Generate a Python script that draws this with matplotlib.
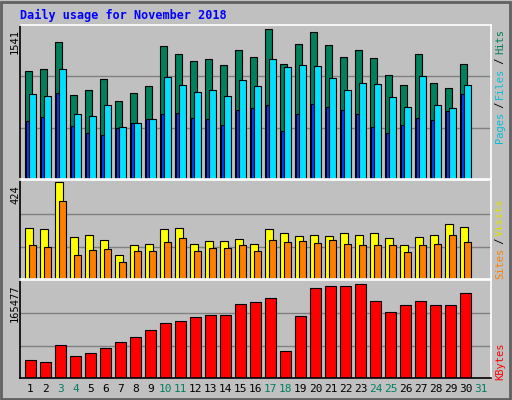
import numpy as np
import matplotlib.pyplot as plt
from matplotlib.patches import Rectangle

days = np.arange(1, 31)
day_labels = [str(d) for d in range(1, 32)]
weekend = [3, 4, 10, 11, 17, 18, 24, 25, 31]

hits = [1112, 1133, 1415, 861, 913, 1028, 809, 882, 955, 1374, 1290, 1217, 1238, 1175, 1332,
        1259, 1541, 1185, 1395, 1510, 1384, 1259, 1332, 1248, 1070, 966, 1290, 987, 934, 1185]
files = [872, 851, 1133, 673, 652, 767, 537, 579, 621, 1049, 966, 892, 913, 851, 1018,
         955, 1238, 1154, 1175, 1164, 1039, 913, 987, 976, 840, 746, 1060, 767, 736, 966]
pages = [600, 641, 882, 547, 474, 453, 526, 579, 621, 673, 683, 631, 621, 558, 715,
         736, 767, 495, 673, 777, 746, 715, 673, 537, 474, 558, 631, 610, 704, 872]
visits = [222, 217, 424, 185, 194, 171, 107, 149, 153, 217, 222, 153, 167, 167, 176,
          153, 217, 199, 190, 194, 190, 199, 194, 199, 181, 149, 185, 194, 240, 227]
sites = [149, 139, 341, 103, 126, 130, 75, 121, 121, 162, 181, 121, 135, 135, 149,
         121, 171, 162, 167, 158, 171, 153, 149, 149, 149, 116, 149, 153, 194, 162]
kbytes = [31400, 27780, 58590, 38650, 44090, 53150, 64020, 71270, 83950, 96640,
          100260, 107510, 111130, 111130, 129250, 132880, 140120, 47720, 109320, 158240,
          161870, 161870, 165477, 134690, 116570, 127440, 134690, 127440, 127440, 149180]

W, H = 512, 400
BG = '#c0c0c0'
MONO = 'DejaVu Sans Mono'
fig = plt.figure(figsize=(W / 100, H / 100), dpi=100, facecolor=BG)

def px_axes(x0, y0, x1, y1):
    return fig.add_axes([x0 / W, 1 - y1 / H, (x1 - x0) / W, (y1 - y0) / H])

def style(ax, vmax):
    ax.set_facecolor(BG)
    ax.set_xlim(0.3, 31.7)
    ax.set_ylim(0, vmax * 1.03)
    for f in (1 / 3, 2 / 3):
        ax.axhline(vmax * 1.03 * f, color='#808080', lw=1, zorder=0)
    ax.set_xticks([])
    ax.set_yticks([])
    ax.spines['top'].set_color('white')
    ax.spines['right'].set_color('white')
    ax.spines['left'].set_color('black')
    ax.spines['bottom'].set_color('white')
    for s in ax.spines.values():
        s.set_linewidth(1.2)

kw = dict(align='edge', edgecolor='black', linewidth=0.8)

ax1 = px_axes(20, 25, 491, 179)
style(ax1, 1541)
ax1.bar(days - 0.367, hits, width=0.49, color='#00805c', **kw)
ax1.bar(days - 0.28, pages, width=0.18, color='#0040ff', **kw)
ax1.bar(days - 0.1, files, width=0.49, color='#00e0ff', **kw)

ax2 = px_axes(20, 180, 491, 279)
style(ax2, 424 / 1.03)
ax2.set_ylim(0, 424 * 1.02)
ax2.bar(days - 0.367, visits, width=0.55, color='#ffff00', **kw)
ax2.bar(days - 0.1, sites, width=0.49, color='#ff8000', **kw)

ax3 = px_axes(20, 280, 491, 378)
style(ax3, 165477)
ax3.set_ylim(0, 165477 * 1.04)
ax3.bar(days - 0.35, kbytes, width=0.7, color='#ff0000', **kw)
ax3.spines['bottom'].set_color('black')

# title and axis labels
fig.text(20 / W, 1 - 15 / H, 'Daily usage for November 2018', color='#0000ff',
         fontsize=8.5, fontweight='bold', family=MONO, va='center')
for y, t in [(29, '1541'), (185, '424'), (284, '165477')]:
    fig.text(15 / W, 1 - y / H, t, rotation=90, family=MONO, fontsize=7.5,
             ha='center', va='top')
for d in day_labels:
    i = int(d)
    x = 20 + (i - 0.3) * 471 / 31.4
    fig.text(x / W, 1 - 389 / H, d, family=MONO, fontsize=8, ha='center', va='center',
             color='#008060' if i in weekend else 'black')

def vlabel(y_top, parts):
    y = y_top
    for txt, col in parts:
        fig.text(500 / W, 1 - y / H, txt, rotation=90, family=MONO, fontsize=7.5,
                 color=col, ha='center', va='top')
        y += len(txt) * 5.5

vlabel(29, [('Hits', '#00805c'), (' / ', 'black'), ('Files', '#00c0e0'),
            (' / ', 'black'), ('Pages', '#00c0e0')])
vlabel(198, [('Visits', '#e0e000'), (' / ', 'black'), ('Sites', '#ff8000')])
vlabel(342, [('KBytes', '#ff0000')])

# window frame
fig.patches.append(Rectangle((1 / W, 1 / H), 1 - 3 / W, 1 - 3 / H, transform=fig.transFigure,
                             fill=False, edgecolor='#606060', linewidth=2))

fig.savefig('out.png', dpi=100, facecolor=BG)
